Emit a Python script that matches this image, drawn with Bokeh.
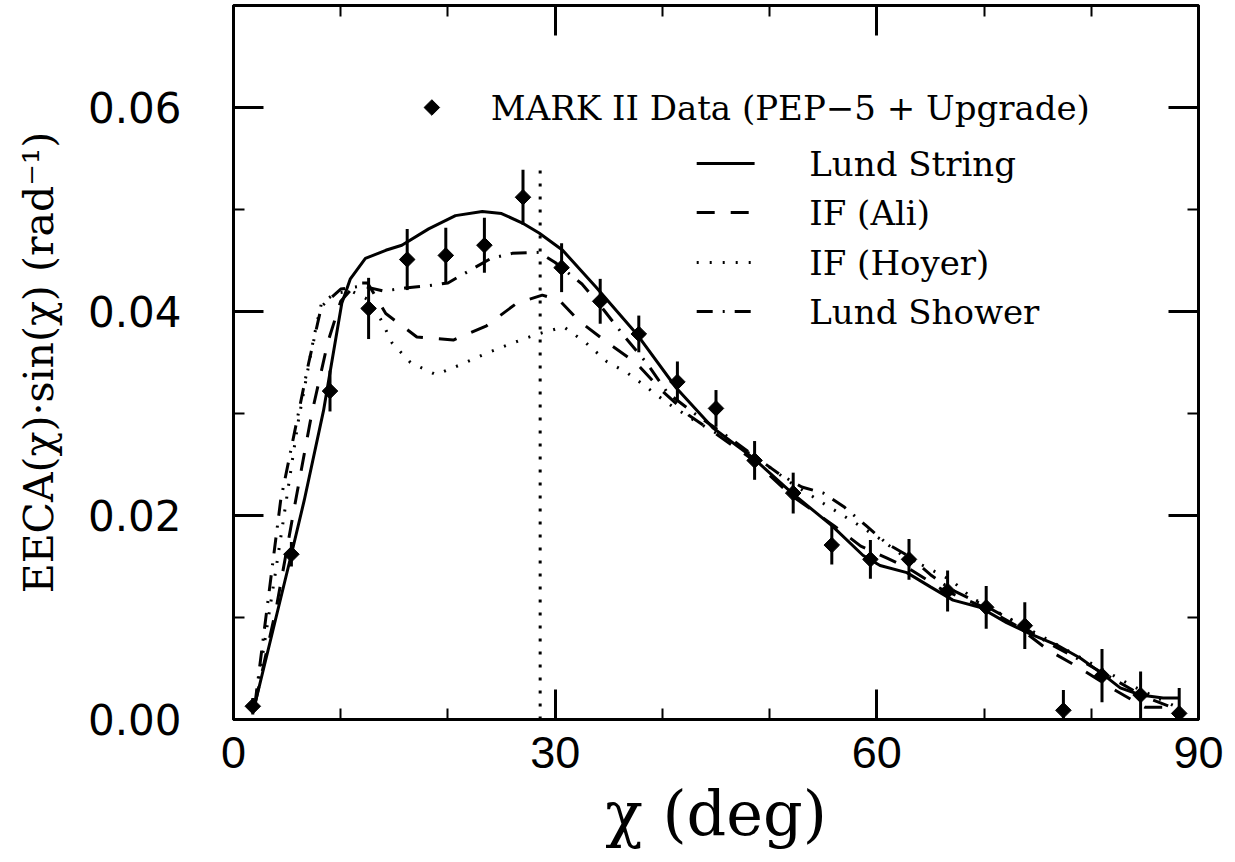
from bokeh.plotting import figure
from bokeh.models import Range1d, LinearAxis, FixedTicker, PrintfTickFormatter
from bokeh.core.properties import value
from bokeh.embed import file_html
from bokeh.resources import INLINE

# ---- data ----
chi = [1.8, 5.4, 9.0, 12.6, 16.2, 19.8, 23.4, 27.0, 30.6, 34.2, 37.8, 41.4, 45.0,
       48.6, 52.2, 55.8, 59.4, 63.0, 66.6, 70.2, 73.8, 77.4, 81.0, 84.6, 88.2]
eeca = [0.0013, 0.0162, 0.0322, 0.0403, 0.0451, 0.0455, 0.0465, 0.0512, 0.0443, 0.0410,
        0.0378, 0.0331, 0.0305, 0.0254, 0.0222, 0.0171, 0.0157, 0.0157, 0.0126, 0.0110,
        0.0092, 0.0009, 0.0043, 0.0024, 0.0006]
eeca_err = [0.0008, 0.0012, 0.0020, 0.0030, 0.0030, 0.0027, 0.0027, 0.0027, 0.0024, 0.0022,
            0.0018, 0.0020, 0.0018, 0.0019, 0.0020, 0.0019, 0.0019, 0.0020, 0.0020, 0.0021,
            0.0023, 0.0020, 0.0026, 0.0023, 0.0025]

lund_string_x = [2.0, 5.4, 6.6, 8.4, 10.1, 10.9, 12.3, 14.2, 15.7, 18.2, 20.7, 23.2, 25.0,
                 26.9, 28.5, 30.7, 33.8, 37.6, 41.3, 44.7, 48.4, 52.1, 55.8, 58.7, 60.3,
                 62.8, 65.0, 67.1, 69.6, 72.1, 74.3, 76.8, 79.0, 81.0, 82.7, 84.6, 86.7, 88.1]
lund_string_y = [0.0015, 0.0162, 0.0215, 0.0303, 0.0408, 0.0432, 0.0452, 0.0460, 0.0465,
                 0.0481, 0.0494, 0.0498, 0.0496, 0.0487, 0.0477, 0.0460, 0.0424, 0.0378,
                 0.0325, 0.0286, 0.0257, 0.0222, 0.0190, 0.0161, 0.0151, 0.0144, 0.0130,
                 0.0117, 0.0110, 0.0095, 0.0084, 0.0073, 0.0060, 0.0045, 0.0031, 0.0024,
                 0.0021, 0.0021]

if_ali_x = [2.0, 4.0, 5.8, 7.3, 8.8, 10.0, 11.5, 12.5, 14.2, 17.1, 20.5, 23.6, 26.4, 28.8,
            30.4, 32.2, 34.8, 37.5, 40.0, 42.5, 45.0, 48.4, 52.0, 56.0, 58.5, 61.0, 63.0,
            66.0, 70.0, 73.0, 76.0, 79.0, 82.0, 85.0, 88.1]
if_ali_y = [0.0015, 0.0110, 0.0215, 0.0300, 0.0370, 0.0410, 0.0428, 0.0428, 0.0398, 0.0375,
            0.0372, 0.0386, 0.0408, 0.0416, 0.0411, 0.0391, 0.0370, 0.0350, 0.0322, 0.0298,
            0.0280, 0.0255, 0.0220, 0.0190, 0.0170, 0.0158, 0.0148, 0.0128, 0.0110, 0.0092,
            0.0068, 0.0050, 0.0030, 0.0012, 0.0012]

if_hoyer_x = [2.0, 4.0, 6.0, 7.5, 8.2, 9.5, 11.0, 12.5, 13.7, 14.8, 16.5, 18.9, 21.2, 23.6,
              26.0, 28.4, 30.8, 32.9, 34.8, 36.7, 38.0, 40.5, 43.0, 46.0, 49.0, 52.0, 55.0,
              58.1, 60.3, 62.5, 64.7, 67.0, 68.9, 72.2, 76.0, 80.0, 84.0, 88.0]
if_hoyer_y = [0.0015, 0.0150, 0.0290, 0.0375, 0.0408, 0.0418, 0.0420, 0.0412, 0.0393, 0.0369,
              0.0350, 0.0338, 0.0348, 0.0359, 0.0369, 0.0378, 0.0385, 0.0369, 0.0351, 0.0340,
              0.0330, 0.0310, 0.0293, 0.0275, 0.0255, 0.0232, 0.0212, 0.0192, 0.0177, 0.0160,
              0.0149, 0.0136, 0.0119, 0.0100, 0.0078, 0.0055, 0.0032, 0.0012]

lund_shower_x = [2.0, 4.4, 7.0, 8.2, 10.0, 12.0, 14.0, 16.0, 18.0, 20.0, 22.0, 24.0, 26.0,
                 28.5, 30.0, 32.5, 34.5, 36.5, 38.5, 40.5, 43.0, 46.0, 49.0, 51.0, 53.0,
                 55.0, 57.0, 59.0, 61.0, 63.0, 65.0, 67.0, 70.0, 73.0, 76.0, 79.0, 82.0,
                 85.0, 88.0]
lund_shower_y = [0.0015, 0.0215, 0.0349, 0.0405, 0.0422, 0.0425, 0.0420, 0.0423, 0.0425,
                 0.0428, 0.0440, 0.0452, 0.0457, 0.0458, 0.0448, 0.0427, 0.0402, 0.0375,
                 0.0350, 0.0320, 0.0300, 0.0278, 0.0255, 0.0240, 0.0228, 0.0222, 0.0208,
                 0.0190, 0.0172, 0.0160, 0.0142, 0.0127, 0.0112, 0.0095, 0.0075, 0.0058,
                 0.0040, 0.0022, 0.0010]

marker_line_x = [28.6, 28.6]
marker_line_y = [0.0, 0.054]

x_major = [0, 30, 60, 90]
x_minor = [10, 20, 40, 50, 70, 80]
y_major = [0.0, 0.02, 0.04, 0.06]
y_minor = [0.01, 0.03, 0.05]

legend_labels = ["MARK II Data (PEP\u22125 + Upgrade)", "Lund String", "IF (Ali)",
                 "IF (Hoyer)", "Lund Shower"]

# ---- figure ----
p = figure(width=1235, height=862, x_range=Range1d(0, 90), y_range=Range1d(0, 0.07),
           output_backend="svg", toolbar_location=None,
           min_border_left=233, min_border_right=37, min_border_top=5, min_border_bottom=143)
p.grid.visible = False
p.outline_line_color = "black"
p.outline_line_width = 3
p.background_fill_color = "white"
p.border_fill_color = "white"

p.add_layout(LinearAxis(), "right")
p.add_layout(LinearAxis(), "above")

for ax in p.xaxis:
    ax.ticker = FixedTicker(ticks=x_major, minor_ticks=x_minor)
for ax in p.yaxis:
    ax.ticker = FixedTicker(ticks=y_major, minor_ticks=y_minor)
    ax.formatter = PrintfTickFormatter(format="%.2f")

for ax in list(p.xaxis) + list(p.yaxis):
    ax.axis_line_width = 3
    ax.axis_line_color = "black"
    ax.major_tick_in = 30
    ax.major_tick_out = 0
    ax.minor_tick_in = 11
    ax.minor_tick_out = 0
    ax.major_tick_line_width = 3
    ax.minor_tick_line_width = 2
    ax.major_tick_line_color = "black"
    ax.minor_tick_line_color = "black"

# hide labels on top / right axes
for ax in [p.right[0], p.above[0]]:
    ax.major_label_text_font_size = "0px"
    ax.major_label_text_color = None
    ax.major_label_standoff = 0

xa = p.below[0]
xa.major_label_text_font = "Liberation Sans"
xa.major_label_text_font_size = "45px"
xa.major_label_text_color = "black"
xa.major_label_standoff = 17
xa.axis_label = "\u03c7 (deg)"
xa.axis_label_text_font = "DejaVu Serif"
xa.axis_label_text_font_style = "normal"
xa.axis_label_text_font_size = "62px"
xa.axis_label_text_color = "black"
xa.axis_label_standoff = 6

ya = p.left[0]
ya.major_label_text_font = "DejaVu Sans"
ya.major_label_text_font_size = "42px"
ya.major_label_text_color = "black"
ya.major_label_standoff = 52
ya.axis_label = "EECA(\u03c7)\u00b7sin(\u03c7) (rad\u207b\u00b9)"
ya.axis_label_text_font = "DejaVu Serif"
ya.axis_label_text_font_style = "normal"
ya.axis_label_text_font_size = "41px"
ya.axis_label_text_color = "black"
ya.axis_label_standoff = 22

# ---- model curves ----
p.line(lund_string_x, lund_string_y, line_color="black", line_width=3)
p.line(if_ali_x, if_ali_y, line_color="black", line_width=3, line_dash="18 16")
p.line(if_hoyer_x, if_hoyer_y, line_color="black", line_width=3, line_dash="2 11")
p.line(lund_shower_x, lund_shower_y, line_color="black", line_width=3, line_dash="16 10 2 10")

# vertical dotted marker
p.line(marker_line_x, marker_line_y, line_color="black", line_width=3, line_dash="3 10")

# ---- data points ----
lo = [v - e for v, e in zip(eeca, eeca_err)]
hi = [v + e for v, e in zip(eeca, eeca_err)]
p.segment(x0=chi, y0=lo, x1=chi, y1=hi, line_color="black", line_width=3)
p.scatter(chi, eeca, marker="square", size=11, angle=0.785398,
          fill_color="black", line_color="black")

# ---- manual legend ----
font = value("DejaVu Serif")
p.scatter([18.5], [0.0600], marker="square", size=11, angle=0.785398,
          fill_color="black", line_color="black")
p.text([24.0], [0.0600], text=[legend_labels[0]], text_font=font, text_font_size="34px",
       text_baseline="middle", text_align="left", text_color="black")
rows_y = [0.0545, 0.0497, 0.0448, 0.0400]
dashes = ["solid", "18 16", "2 11", "16 10 2 10"]
for yy, lab, dsh in zip(rows_y, legend_labels[1:], dashes):
    p.line([43.2, 48.6], [yy, yy], line_color="black", line_width=3, line_dash=dsh)
    p.text([53.7], [yy], text=[lab], text_font=font, text_font_size="34px",
           text_baseline="middle", text_align="left", text_color="black")

open("out.html", "w").write(file_html(p, INLINE))
